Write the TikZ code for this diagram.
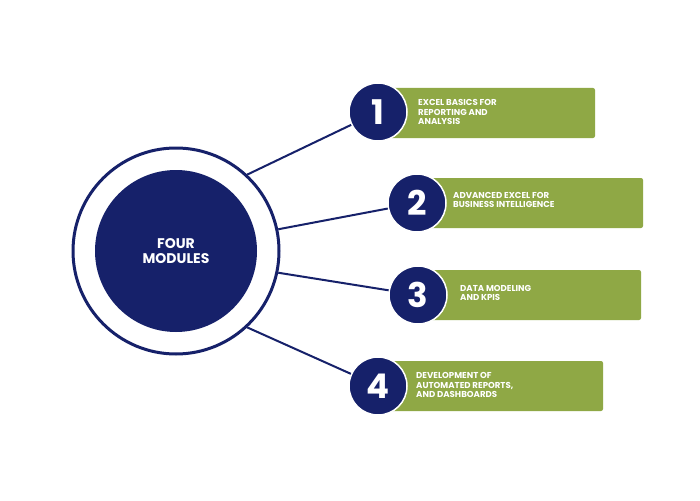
\documentclass[tikz,border=0pt]{standalone}
\usepackage{fontspec}
\setmainfont{Poppins}[BoldFont={* Bold}]
\definecolor{navy}{HTML}{16216A}
\definecolor{olive}{HTML}{8FA845}
\begin{document}
\begin{tikzpicture}[x=1pt,y=-1pt,
  gbox/.style={fill=olive,rounded corners=2pt},
  num/.style={circle,fill=navy,draw=white,line width=1.5pt,minimum size=58pt,inner sep=0pt,text=white,font=\bfseries\fontsize{34}{34}\selectfont},
  lab/.style={anchor=west,align=left,text=white,font=\bfseries\fontsize{8.6}{9.4}\selectfont,inner sep=0pt},
  conn/.style={draw=navy,line width=2pt}]
\useasboundingbox (0,0) rectangle (700,500);
\fill[white] (0,0) rectangle (700,500);
\node[circle,draw=navy,line width=3pt,minimum size=206pt,inner sep=0pt] (big) at (176,251) {};
\node[circle,fill=navy,minimum size=162pt,inner sep=0pt,text=white,align=center,font=\bfseries\fontsize{14}{15}\selectfont] (core) at (176,251) {FOUR\\MODULES};
\fill[gbox] (390,88) rectangle (595,138);
\fill[gbox] (430,178) rectangle (643,228);
\fill[gbox] (430,270) rectangle (641,320);
\fill[gbox] (390,361) rectangle (603,411);
\node[num] (n1) at (378,112) {1};
\node[num] (n2) at (417,203) {2};
\node[num] (n3) at (418,295) {3};
\node[num] (n4) at (378,386) {4};
\draw[conn] (big.47) -- (n1);
\draw[conn] (big.12) -- (n2);
\draw[conn] (big.-12) -- (n3);
\draw[conn] (big.-47) -- (n4);
\node[lab] (t1) at (418,112) {EXCEL BASICS FOR\\REPORTING AND\\ANALYSIS};
\node[lab] (t2) at (453,200) {ADVANCED EXCEL FOR\\BUSINESS INTELLIGENCE};
\node[lab] (t3) at (460,293) {DATA MODELING\\AND KPIS};
\node[lab] (t4) at (416,385) {DEVELOPMENT OF\\AUTOMATED REPORTS,\\AND DASHBOARDS};
\end{tikzpicture}
\end{document}
